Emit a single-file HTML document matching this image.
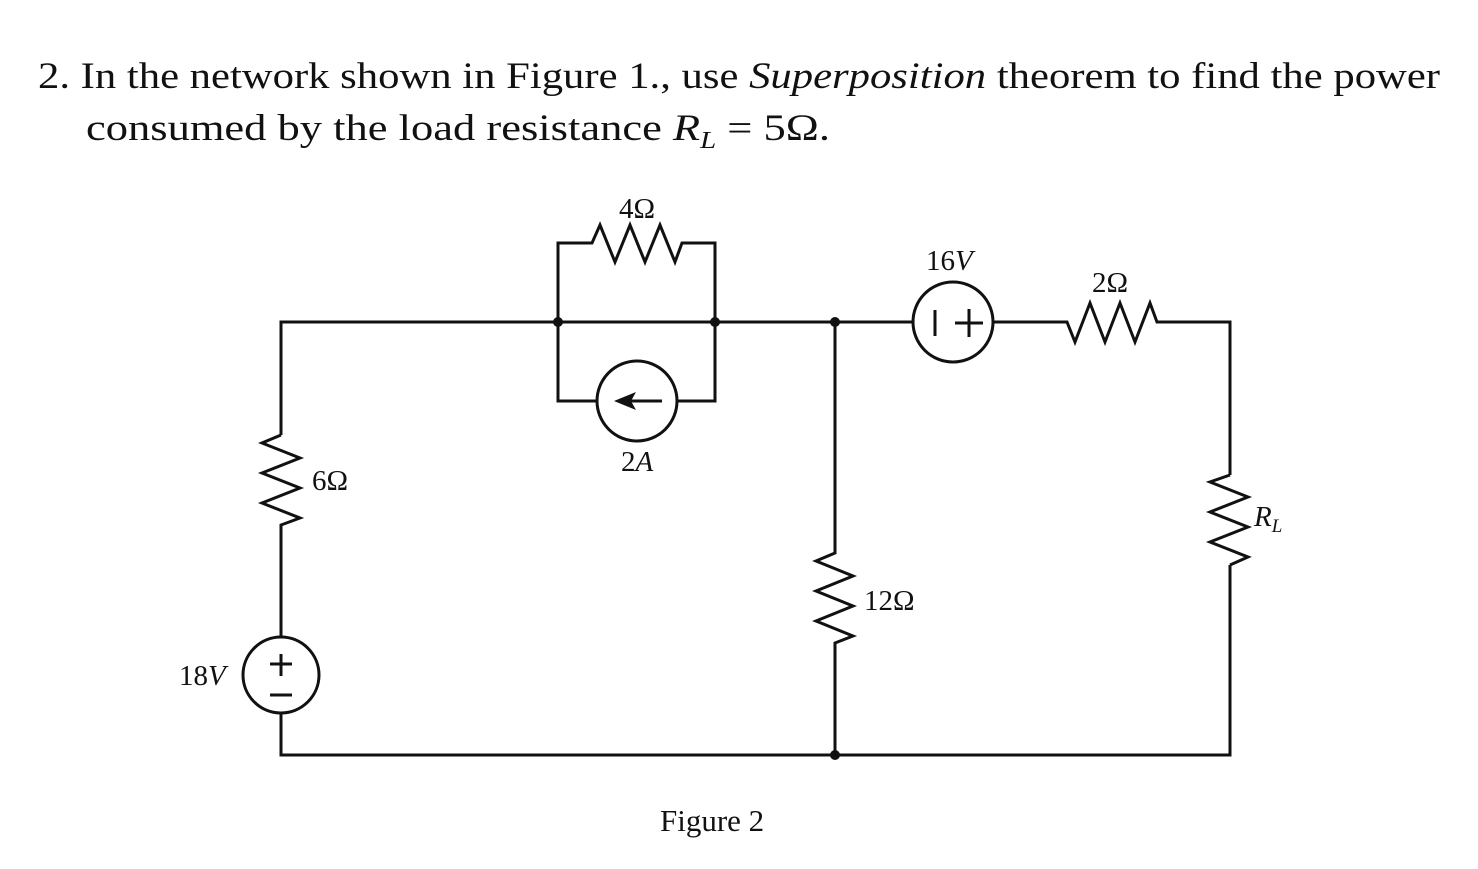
<!DOCTYPE html>
<html><head><meta charset="utf-8"><style>
html,body{margin:0;padding:0;background:#fff;}
svg{display:block;}
text{font-family:"Liberation Serif",serif;fill:#111;}
</style></head><body>
<svg width="1478" height="869" viewBox="0 0 1478 869" xmlns="http://www.w3.org/2000/svg">
<text x="38" y="88" font-size="37" textLength="1402" lengthAdjust="spacingAndGlyphs">2. In the network shown in Figure 1., use <tspan font-style="italic">Superposition</tspan> theorem to find the power</text>
<text x="86" y="140" font-size="37" textLength="744" lengthAdjust="spacingAndGlyphs">consumed by the load resistance <tspan font-style="italic">R</tspan><tspan font-style="italic" font-size="24" dy="8">L</tspan><tspan dy="-8"> = 5Ω.</tspan></text>

<g fill="none" stroke="#111" stroke-width="3" stroke-linejoin="miter">
<polyline points="281,435 281,322 913,322"/>
<polyline points="281,435 262,443 300,458 262,473 300,488 262,503 300,518 281,525 281,637"/>
<circle cx="281" cy="675" r="38"/>
<polyline points="281,713 281,755 1230,755 1230,565"/>
<polyline points="558,322 558,243 592,243 600,225 615,262 630,225 645,262 660,225 675,262 682,243 715,243 715,401 677,401"/>
<polyline points="558,322 558,401 597,401"/>
<circle cx="637" cy="401" r="40"/>
<line x1="630" y1="401" x2="662" y2="401"/>
<polyline points="835,322 835,553 816,561 853,576 816,591 853,606 816,621 853,636 835,643 835,755"/>
<circle cx="953" cy="322" r="40"/>
<line x1="935" y1="310" x2="935" y2="336"/>
<line x1="955" y1="323" x2="983" y2="323"/>
<line x1="969" y1="309" x2="969" y2="337"/>
<polyline points="993,322 1067,322 1075,342 1090,303 1105,342 1120,303 1135,342 1150,303 1157,322 1230,322 1230,475"/>
<polyline points="1230,475 1210,482 1248,497 1210,512 1248,527 1210,542 1248,557 1230,565"/>
<line x1="281" y1="654" x2="281" y2="676"/>
<line x1="270" y1="664" x2="292" y2="664"/>
<line x1="270" y1="695" x2="292" y2="695"/>
</g>
<polygon points="614,401 636,392 631,401 636,410" fill="#111"/>
<g fill="#111">
<circle cx="558" cy="322" r="5"/>
<circle cx="715" cy="322" r="5"/>
<circle cx="835" cy="322" r="5"/>
<circle cx="835" cy="755" r="5"/>
</g>
<g font-size="29">
<text x="619" y="218">4Ω</text>
<text x="926" y="270">16<tspan font-style="italic">V</tspan></text>
<text x="1092" y="292">2Ω</text>
<text x="621" y="471"><tspan>2</tspan><tspan font-style="italic">A</tspan></text>
<text x="312" y="490">6Ω</text>
<text x="864" y="610">12Ω</text>
<text x="179" y="685">18<tspan font-style="italic">V</tspan></text>
<text x="1254" y="526" font-style="italic">R<tspan font-size="19" dy="6">L</tspan></text>
<text x="660" y="831" font-size="31">Figure 2</text>
</g>
</svg>
</body></html>
